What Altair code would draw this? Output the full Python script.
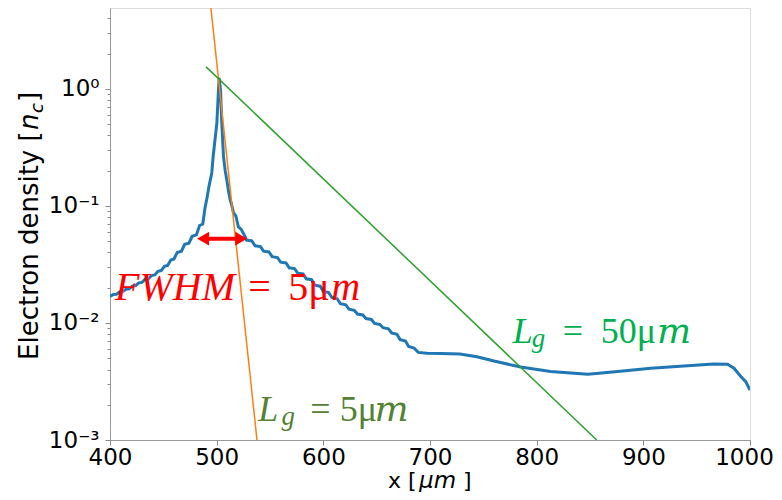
import altair as alt
import pandas as pd

# ---------------- data ----------------
profile_x = [400, 403, 406, 409, 412, 415, 418, 421, 424, 427, 430, 433, 436, 439, 442,
             445, 448, 451, 454, 457, 460, 463, 467, 470, 474, 477, 481, 484, 487, 489,
             490.7, 493, 495.4, 496.7, 498.5, 500.2, 501.7, 502.3, 503.6, 504.8, 506.4,
             508, 509.5, 511, 512.7, 513.6, 515.8, 518, 520.4, 523, 526.8, 528, 533,
             536, 541, 544, 549, 552, 557, 560, 565, 568, 573, 576, 581, 584, 589, 592,
             597, 600, 605, 608, 613, 616, 621, 624, 629, 632, 637, 640, 645, 648, 653,
             656, 661, 664, 669, 672, 677, 680, 685, 689, 697, 710, 728, 744, 760, 785,
             813, 848, 876, 907, 938, 966, 979, 985, 991.6, 996, 1000]
profile_y = [0.0168, 0.0175, 0.0176, 0.0184, 0.0186, 0.0194, 0.0196, 0.0206, 0.0208,
             0.0220, 0.0222, 0.0236, 0.0238, 0.0254, 0.0257, 0.0276, 0.0280, 0.0305,
             0.0310, 0.0345, 0.0352, 0.0400, 0.0410, 0.0470, 0.0480, 0.0550, 0.0565,
             0.0680, 0.0700, 0.0950, 0.114, 0.150, 0.191, 0.263, 0.370, 0.513, 0.980,
             1.24, 0.980, 0.513, 0.263, 0.200, 0.166, 0.135, 0.112, 0.106, 0.087, 0.082,
             0.066, 0.063, 0.0543, 0.0510, 0.0502, 0.0456, 0.0449, 0.0410, 0.0404,
             0.0368, 0.0362, 0.0330, 0.0325, 0.0296, 0.0291, 0.0266, 0.0262, 0.0238,
             0.0234, 0.0210, 0.0206, 0.0186, 0.0182, 0.0165, 0.0161, 0.0146, 0.0143,
             0.0131, 0.0128, 0.0119, 0.0117, 0.0109, 0.0107, 0.0099, 0.0097, 0.0091,
             0.0089, 0.0082, 0.0080, 0.0072, 0.0070, 0.0063, 0.0061, 0.0056, 0.0055,
             0.00548, 0.00543, 0.00515, 0.00473, 0.00420, 0.00384, 0.00365, 0.00384,
             0.00410, 0.00429, 0.00446, 0.00444, 0.00410, 0.00347, 0.00315, 0.00267]

lg5_x = [494.6, 537.8]
lg5_y = [4.9, 0.001]
lg50_x = [490.1, 856.3]
lg50_y = [1.54, 0.001]

arrow_x = [487.3, 523.0]
arrow_y = [0.0525, 0.0525]

x_ticks = [400, 500, 600, 700, 800, 900, 1000]
y_ticks = [0.001, 0.002, 0.003, 0.004, 0.005, 0.006, 0.007, 0.008, 0.009,
           0.01, 0.02, 0.03, 0.04, 0.05, 0.06, 0.07, 0.08, 0.09,
           0.1, 0.2, 0.3, 0.4, 0.5, 0.6, 0.7, 0.8, 0.9,
           1, 2, 3, 4]

fwhm_text = ["FWHM", "=", "5μ", "m"]
fwhm_x = [404.7, 529.6, 567.1, 607.5]
fwhm_y = [0.0157, 0.0157, 0.0157, 0.0157]

lg5_text = ["L", "=", "5μ", "m"]
lg5_tx = [539.0, 587.8, 615.5, 648.0]
lg5_ty = [0.00145, 0.00145, 0.00145, 0.00145]
lg5_sub_x = [560.8]
lg5_sub_y = [0.00134]

lg50_text = ["L", "=", "50μ", "m"]
lg50_tx = [777.5, 824.4, 860.1, 912.7]
lg50_ty = [0.00674, 0.00674, 0.00674, 0.00674]
lg50_sub_x = [795.5]
lg50_sub_y = [0.00624]

# ---------------- scales ----------------
XS = alt.Scale(domain=[400, 1000], nice=False, zero=False)
YS = alt.Scale(type="log", domain=[0.001, 4.9], nice=False)

is_major = "abs(log(datum.value)/LN10 - round(log(datum.value)/LN10)) < 0.01"
label_expr = (
    f"({is_major}) ? (round(log(datum.value)/LN10) == 0 ? '10⁰' : "
    "round(log(datum.value)/LN10) == -1 ? '10⁻¹' : "
    "round(log(datum.value)/LN10) == -2 ? '10⁻²' : '10⁻³') : ''"
)

x_axis = alt.Axis(values=x_ticks, title=None, grid=False, labelFontSize=23,
                  labelFont="DejaVu Sans", labelColor="black", tickSize=5,
                  tickColor="#888", domainColor="#999", labelPadding=1, format="d",
                  labelOffset={"condition": {"test": "datum.value == 1000", "value": -6},
                               "value": 0},
                  labelFlush=False, labelOverlap=False)
y_axis = alt.Axis(values=y_ticks, title=None, grid=False, labelFontSize=23,
                  labelFont="DejaVu Sans", labelColor="black",
                  tickSize={"condition": {"test": is_major, "value": 5}, "value": 3},
                  tickColor="#888", domainColor="#999", labelPadding=6,
                  labelExpr=label_expr, labelOverlap=False, labelFlush=False)

prof = pd.DataFrame({"x": profile_x, "y": profile_y})
base = alt.Chart(prof).mark_line(color="#1f77b4", strokeWidth=3, clip=True).encode(
    x=alt.X("x:Q", scale=XS, axis=x_axis),
    y=alt.Y("y:Q", scale=YS, axis=y_axis),
)


def line_layer(xs, ys, color, width):
    df = pd.DataFrame({"x": xs, "y": ys})
    return alt.Chart(df).mark_line(color=color, strokeWidth=width, clip=True).encode(
        x=alt.X("x:Q", scale=XS), y=alt.Y("y:Q", scale=YS))


def text_layer(texts, xs, ys, color, size, style, font="Liberation Serif"):
    df = pd.DataFrame({"x": xs, "y": ys, "t": texts})
    return alt.Chart(df).mark_text(align="left", baseline="alphabetic", font=font,
                                   fontSize=size, fontStyle=style, color=color).encode(
        x=alt.X("x:Q", scale=XS), y=alt.Y("y:Q", scale=YS), text="t:N")


orange = line_layer(lg5_x, lg5_y, "#ff7f0e", 1.5)
green = line_layer(lg50_x, lg50_y, "#2ca02c", 1.5)

arrow_df = pd.DataFrame({"x": arrow_x, "y": arrow_y,
                         "shape": ["triangle-left", "triangle-right"]})
arrow_line = alt.Chart(arrow_df).mark_line(color="#ff0000", strokeWidth=4).encode(
    x=alt.X("x:Q", scale=XS), y=alt.Y("y:Q", scale=YS))
arrow_heads = alt.Chart(arrow_df).mark_point(filled=True, color="#ff0000", size=190,
                                             opacity=1).encode(
    x=alt.X("x:Q", scale=XS), y=alt.Y("y:Q", scale=YS),
    shape=alt.Shape("shape:N", scale=None, legend=None))

RED = "#ff0000"
OLIVE = "#548235"
GREEN = "#00b050"

texts = [
    text_layer([fwhm_text[0]], [fwhm_x[0]], [fwhm_y[0]], RED, 40, "italic"),
    text_layer(fwhm_text[1:3], fwhm_x[1:3], fwhm_y[1:3], RED, 40, "normal"),
    text_layer([fwhm_text[3]], [fwhm_x[3]], [fwhm_y[3]], RED, 40, "italic"),
    text_layer([lg5_text[0]], [lg5_tx[0]], [lg5_ty[0]], OLIVE, 36, "italic"),
    text_layer(["g"], lg5_sub_x, lg5_sub_y, OLIVE, 27, "italic"),
    text_layer(lg5_text[1:3], lg5_tx[1:3], lg5_ty[1:3], OLIVE, 36, "normal"),
    text_layer([lg5_text[3]], [lg5_tx[3]], [lg5_ty[3]], OLIVE, 36, "italic",
               font="DejaVu Serif"),
    text_layer([lg50_text[0]], [lg50_tx[0]], [lg50_ty[0]], GREEN, 36, "italic"),
    text_layer(["g"], lg50_sub_x, lg50_sub_y, GREEN, 27, "italic"),
    text_layer(lg50_text[1:3], lg50_tx[1:3], lg50_ty[1:3], GREEN, 36, "normal"),
    text_layer([lg50_text[3]], [lg50_tx[3]], [lg50_ty[3]], GREEN, 36, "italic",
               font="DejaVu Serif"),
]

# ---------------- axis titles (composed text) ----------------
one = pd.DataFrame({"a": [0]})


def title_piece(txt, px, py, size, style="normal", angle=0, font="DejaVu Sans"):
    return alt.Chart(one).mark_text(text=txt, align="left", baseline="alphabetic",
                                    font=font, fontSize=size, fontStyle=style,
                                    color="black", angle=angle).encode(
        x=alt.value(px), y=alt.value(py))


titles = [
    title_piece("x [", 278, 480, 22),
    title_piece("μm", 309, 480, 23, "italic"),
    title_piece("]", 353, 480, 22),
    title_piece("Electron density [", -72, 352, 26, angle=270),
    title_piece("n", -72, 122, 26, "italic", angle=270),
    title_piece("c", -67, 105, 18, "italic", angle=270),
    title_piece("]", -72, 94, 26, angle=270),
]

chart = alt.layer(base, orange, green, arrow_line, arrow_heads, *texts, *titles).properties(
    width=640, height=432,
    autosize=alt.AutoSizeParams(type="none"),
    padding={"left": 102, "top": 0, "right": 24, "bottom": 52},
).configure_view(stroke="#999", strokeWidth=1).configure(background="white")

chart.save("out.html", embed_options={"renderer": "svg", "actions": False})
